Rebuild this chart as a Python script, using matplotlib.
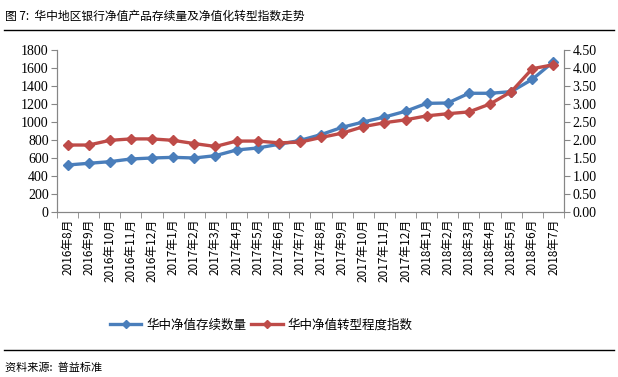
import numpy as np
import matplotlib
matplotlib.use('Agg')
import matplotlib.pyplot as plt
from matplotlib.lines import Line2D

plt.rcParams['font.family'] = ['Noto Sans CJK SC', 'DejaVu Sans']

months = ['2016年8月', '2016年9月', '2016年10月', '2016年11月', '2016年12月',
          '2017年1月', '2017年2月', '2017年3月', '2017年4月', '2017年5月',
          '2017年6月', '2017年7月', '2017年8月', '2017年9月', '2017年10月',
          '2017年11月', '2017年12月', '2018年1月', '2018年2月', '2018年3月',
          '2018年4月', '2018年5月', '2018年6月', '2018年7月']
stock_count = [522, 541, 559, 589, 600, 607, 600, 626, 689, 711, 752, 795,
               860, 941, 1000, 1055, 1119, 1207, 1211, 1319, 1319, 1337, 1474, 1670]
transform_index = [1.86, 1.86, 1.99, 2.03, 2.03, 1.99, 1.90, 1.82, 1.97, 1.97, 1.92, 1.94,
                   2.07, 2.19, 2.37, 2.48, 2.56, 2.67, 2.73, 2.78, 3.00, 3.34, 3.98, 4.09]

blue = '#4A7EBB'
red = '#BE4B48'
grey = '#868686'

fig = plt.figure(figsize=(6.18, 3.77), dpi=100)
ax = fig.add_axes([0.0922, 0.4377, 0.8204, 0.4297])
ax2 = ax.twinx()

x = np.arange(len(months))
ax.plot(x, stock_count, color=blue, lw=2.4, marker='D', ms=5, zorder=3)
ax2.plot(x, transform_index, color=red, lw=2.4, marker='D', ms=5, zorder=3)

ax.set_xlim(-0.5, len(months) - 0.5)
ax.set_ylim(0, 1800)
ax.set_yticks(np.arange(0, 1801, 200))
ax2.set_ylim(0, 4.5)
ax2.set_yticks(np.arange(0, 4.51, 0.5))
ax2.set_yticklabels(['%.2f' % v for v in np.arange(0, 4.51, 0.5)])

ax.set_xticks(x)
ax.set_xticklabels(months, rotation=90, fontsize=8.5)
ax.set_xticks(np.arange(-0.5, len(months)), minor=True)
ax.tick_params(axis='x', which='major', length=0, pad=5)
ax.tick_params(axis='x', which='minor', length=4, color=grey)

for a in (ax, ax2):
    a.spines['top'].set_visible(False)
    for s in ('left', 'right', 'bottom'):
        a.spines[s].set_color(grey)
    for lab in a.get_yticklabels():
        lab.set_fontfamily('Liberation Serif')
        lab.set_fontsize(10)
ax.tick_params(axis='y', length=4, color=grey, pad=2)
ax2.tick_params(axis='y', length=4, color=grey, pad=2)

# title, rules and source
fig.text(0.008, 0.958, '图 7:  华中地区银行净值产品存续量及净值化转型指数走势', fontsize=8.5, va='center')
fig.add_artist(Line2D([0.006, 0.994], [0.921, 0.921], color='black', lw=1))
fig.add_artist(Line2D([0.006, 0.994], [0.072, 0.072], color='black', lw=1))
fig.text(0.008, 0.025, '资料来源:  普益标准', fontsize=8, va='center')

handles = [Line2D([], [], color=blue, lw=2.4, marker='D', ms=4),
           Line2D([], [], color=red, lw=2.4, marker='D', ms=4)]
fig.legend(handles, ['华中净值存续数量', '华中净值转型程度指数'], loc='center',
           bbox_to_anchor=(0.423, 0.138), ncol=2, frameon=False, fontsize=9,
           handlelength=2.5, handletextpad=0.4, columnspacing=0.4)

fig.savefig('out.png', dpi=100)
